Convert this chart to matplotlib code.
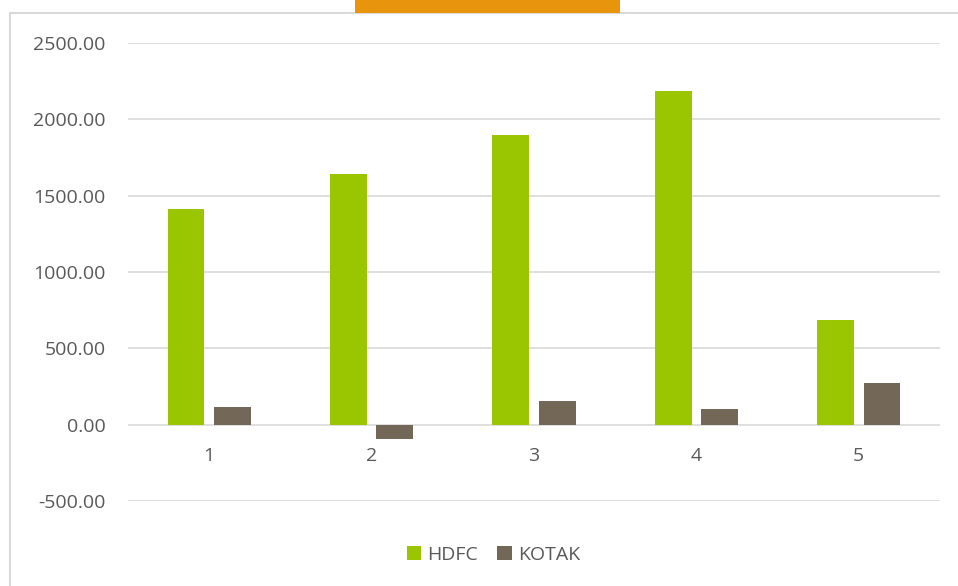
import matplotlib.pyplot as plt
import matplotlib.patches as patches
import numpy as np

# Data
categories = ['1', '2', '3', '4', '5']
hdfc = [1415, 1643, 1898, 2186, 687]
kotak = [118, -92, 157, 105, 275]

green = '#99c600'
brown = '#736858'
grid_col = '#d9d9d9'
text_col = '#595959'

plt.rcParams['font.family'] = ['Open Sans', 'DejaVu Sans']

fig = plt.figure(figsize=(9.58, 5.86), dpi=100)
ax = fig.add_axes([0.1336, 0.145, 0.8476, 0.7816])

# outer chart border and the cropped orange banner at the top
fig.patches.append(patches.Rectangle((10 / 958, -0.01), 1.0, 1 - 13 / 586 + 0.01,
                                     transform=fig.transFigure, fill=False,
                                     edgecolor=grid_col, linewidth=1.5))
fig.patches.append(patches.Rectangle((355 / 958, 1 - 13 / 586), 265 / 958, 13 / 586,
                                     transform=fig.transFigure, facecolor='#e8940c',
                                     edgecolor='none'))

x = np.arange(len(categories))
w = 0.227
ax.bar(x - 0.143, hdfc, width=w, color=green, label='HDFC', zorder=3)
ax.bar(x + 0.143, kotak, width=w, color=brown, label='KOTAK', zorder=3)

ax.set_xlim(-0.5, len(categories) - 0.5)
ax.set_ylim(-500, 2500)
ax.set_yticks(np.arange(-500, 2501, 500))
ax.set_yticklabels([f'{v:.2f}' for v in np.arange(-500, 2501, 500)])
ax.yaxis.grid(True, color=grid_col, linewidth=1.2, zorder=0)
ax.set_axisbelow(True)

for s in ax.spines.values():
    s.set_visible(False)
ax.tick_params(axis='both', length=0, labelsize=14, labelcolor=text_col)
ax.tick_params(axis='y', pad=16)

# category labels sit just under the zero line
ax.set_xticks([])
for xi, lab in zip(x, categories):
    ax.text(xi, -205, lab, ha='center', va='center', fontsize=14, color=text_col)

ax.legend(loc='center', bbox_to_anchor=(0.45, -0.117), ncol=2, frameon=False,
          fontsize=14, labelcolor=text_col, handlelength=0.75, handleheight=0.75,
          handletextpad=0.3, columnspacing=1.0)

fig.savefig('out.png', dpi=100)
